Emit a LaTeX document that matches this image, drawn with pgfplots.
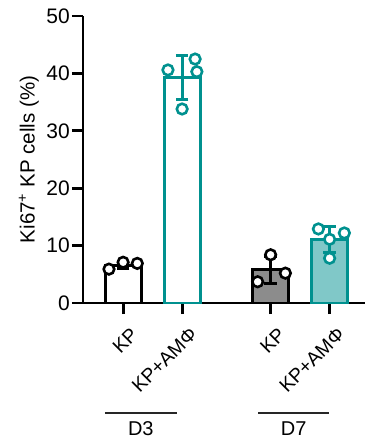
\documentclass[border=0pt]{standalone}
\usepackage{fontspec}
\setmainfont{Liberation Sans}
\usepackage{pgfplots}
\pgfplotsset{compat=1.18}
\definecolor{tealc}{RGB}{0,145,143}
\definecolor{lteal}{RGB}{128,200,200}
\definecolor{gbar}{RGB}{140,140,140}
\begin{document}
\begin{tikzpicture}
\begin{axis}[
  scale only axis, width=282pt, height=287pt,
  xmin=-0.68, xmax=4.1, ymin=0, ymax=50,
  axis x line=bottom, axis y line=left,
  axis line style={line width=2.8pt, -},
  ytick={0,10,20,30,40,50},
  xtick={0,1,2.5,3.5},
  xticklabels={KP, KP+AMΦ, KP, KP+AMΦ},
  xticklabel style={rotate=45, anchor=east, font=\fontsize{19.5}{22}\selectfont, inner sep=1pt, xshift=-3pt, yshift=-20pt},
  yticklabel style={font=\fontsize{21}{23}\selectfont, inner sep=2pt},
  tick style={line width=2.8pt, black},
  major tick length=11pt, tick align=outside,
  /pgf/number format/assume math mode=true,
  ylabel={Ki67\textsuperscript{+} KP cells (\%)},
  ylabel style={font=\fontsize{20.5}{22}\selectfont, xshift=0pt, yshift=2pt},
  clip=false,
]
\addplot[ybar, bar width=0.61, bar shift=0pt, draw=black, fill=white, line width=2.8pt,
  error bars/.cd, y dir=both, y explicit, error mark=|, error bar style={black, line width=2.8pt}, error mark options={black, mark size=6.2pt, line width=2.8pt}]
  coordinates {(0,6.6) +- (0,0.6)};
\addplot[ybar, bar width=0.61, bar shift=0pt, draw=tealc, fill=white, line width=2.8pt,
  error bars/.cd, y dir=both, y explicit, error mark=|, error bar style={tealc, line width=2.8pt}, error mark options={tealc, mark size=6.2pt, line width=2.8pt}]
  coordinates {(1,39.3) +- (0,3.8)};
\addplot[ybar, bar width=0.61, bar shift=0pt, draw=black, fill=gbar, line width=2.8pt,
  error bars/.cd, y dir=both, y explicit, error mark=|, error bar style={black, line width=2.8pt}, error mark options={black, mark size=6.2pt, line width=2.8pt}]
  coordinates {(2.5,5.77) +- (0,2.4)};
\addplot[ybar, bar width=0.61, bar shift=0pt, draw=tealc, fill=lteal, line width=2.8pt,
  error bars/.cd, y dir=both, y explicit, error mark=|, error bar style={tealc, line width=2.8pt}, error mark options={tealc, mark size=6.2pt, line width=2.8pt}]
  coordinates {(3.5,11.0) +- (0,2.26)};
% points
\addplot[only marks, mark=*, mark size=5.3pt, mark options={draw=black, fill=white, line width=2.6pt}]
  coordinates {(-0.24,5.9) (0,7.1) (0.24,6.9)};
\addplot[only marks, mark=*, mark size=5.3pt, mark options={draw=tealc, fill=white, line width=2.6pt}]
  coordinates {(0.76,40.6) (1.22,42.5) (1.25,40.3) (1,33.8)};
\addplot[only marks, mark=*, mark size=5.3pt, mark options={draw=black, fill=white, line width=2.6pt}]
  coordinates {(2.28,3.7) (2.5,8.4) (2.75,5.2)};
\addplot[only marks, mark=*, mark size=5.3pt, mark options={draw=tealc, fill=white, line width=2.6pt}]
  coordinates {(3.31,12.9) (3.5,11.1) (3.75,12.2) (3.5,7.8)};
% group labels
\draw[line width=2.2pt, black!85] (axis cs:-0.31,-19.2) -- (axis cs:0.92,-19.2);
\draw[line width=2.2pt, black!85] (axis cs:2.29,-19.2) -- (axis cs:3.49,-19.2);
\node[font=\fontsize{20}{22}\selectfont] at (axis cs:0.30,-21.9) {D3};
\node[font=\fontsize{20}{22}\selectfont] at (axis cs:2.89,-21.9) {D7};
\end{axis}
\path (current axis.south west) ++(-83pt,-138pt) rectangle ++(366pt,441pt);
\end{tikzpicture}
\end{document}
